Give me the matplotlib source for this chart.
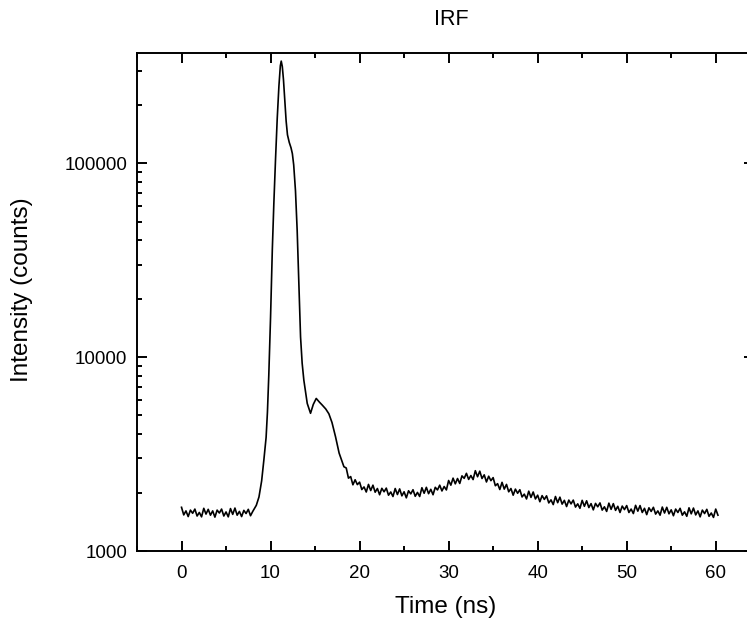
import numpy as np
import matplotlib
matplotlib.use("Agg")
from matplotlib import pyplot as plt
from matplotlib.ticker import LogLocator, MultipleLocator, NullFormatter, FixedLocator

plt.rcParams['font.family'] = ['Liberation Sans', 'DejaVu Sans']

# IRF decay
# baseline before the pulse, 0 .. 7.75 ns
base_counts = [1680, 1535, 1610, 1505, 1625, 1565, 1645, 1515, 1580, 1500,
               1660, 1550, 1640, 1530, 1610, 1495, 1625, 1570, 1645, 1515,
               1590, 1500, 1655, 1545, 1665, 1530, 1600, 1505, 1620, 1560,
               1640, 1520]

# main pulse and after-pulse
peak_time = [8.0, 8.4, 8.7, 9.0, 9.25, 9.5, 9.65, 9.8, 10.0, 10.1,
             10.2, 10.37, 10.56, 10.75, 10.94, 11.1, 11.2, 11.32, 11.45, 11.6,
             11.75, 11.9, 12.1, 12.3, 12.45, 12.6, 12.8, 12.99, 13.18, 13.37,
             13.55, 13.74, 14.12, 14.49, 14.8, 15.13, 15.5, 15.8, 16.2, 16.55,
             16.9, 17.3, 17.7, 18.24]
peak_counts = [1600, 1720, 1900, 2300, 2950, 3850, 5200, 8000, 16000, 24000,
               36000, 62000, 105000, 170000, 250000, 318000, 336000, 315000, 270000, 210000,
               165000, 140000, 128000, 120000, 112000, 98000, 72000, 45000, 24000, 12700,
               9300, 7600, 5770, 5130, 5700, 6120, 5850, 5660, 5400, 5100,
               4600, 3880, 3200, 2720]

# tail, 18.5 .. 60.25 ns
tail_counts = [2680, 2375, 2420, 2195, 2330, 2200, 2265, 2075, 2140, 2015, 2205, 2050,
               2185, 2010, 2100, 1950, 2105, 2020, 2110, 1940, 2015, 1910, 2100, 1955,
               2090, 1925, 2020, 1880, 2045, 1970, 2070, 1915, 2005, 1910, 2120, 1985,
               2130, 1975, 2080, 1950, 2130, 2065, 2185, 2040, 2150, 2065, 2310, 2185,
               2375, 2220, 2365, 2230, 2440, 2370, 2515, 2340, 2450, 2335, 2595, 2415,
               2580, 2365, 2470, 2270, 2430, 2305, 2390, 2170, 2225, 2075, 2260, 2085,
               2205, 2020, 2100, 1940, 2085, 1985, 2070, 1900, 1965, 1855, 2035, 1890,
               2015, 1855, 1940, 1795, 1930, 1845, 1925, 1770, 1835, 1735, 1910, 1775,
               1895, 1745, 1825, 1695, 1830, 1750, 1830, 1685, 1750, 1660, 1825, 1700,
               1815, 1675, 1755, 1630, 1760, 1690, 1770, 1625, 1690, 1600, 1765, 1640,
               1755, 1620, 1700, 1580, 1705, 1635, 1715, 1580, 1645, 1560, 1720, 1605,
               1715, 1580, 1660, 1540, 1670, 1600, 1680, 1550, 1610, 1530, 1685, 1570,
               1680, 1555, 1630, 1520, 1645, 1580, 1660, 1530, 1592, 1510, 1670, 1555,
               1665, 1535, 1610, 1500, 1625, 1560, 1640, 1510, 1570, 1490, 1645, 1530]

x_ticks = [0, 10, 20, 30, 40, 50, 60]
y_ticks = [1000, 10000, 100000]

base_time = np.linspace(0, 7.75, len(base_counts))
tail_time = np.linspace(18.5, 60.25, len(tail_counts))
t = np.concatenate([base_time, peak_time, tail_time])
counts = np.concatenate([base_counts, peak_counts, tail_counts])

fig = plt.figure(figsize=(7.47, 6.18), dpi=100)
ax = fig.add_axes([137/747, 1 - 551/618, 617/747, 498/618])

ax.plot(t, counts, color='black', lw=1.2)

ax.set_yscale('log')
ax.set_xlim(-5, 64.3)
ax.set_ylim(1000, 370000)

ax.xaxis.set_major_locator(FixedLocator(x_ticks))
ax.xaxis.set_minor_locator(MultipleLocator(5))
ax.yaxis.set_major_locator(FixedLocator(y_ticks))
ax.yaxis.set_minor_locator(LogLocator(base=10, subs=np.arange(2, 10)))
ax.yaxis.set_minor_formatter(NullFormatter())
ax.set_yticklabels([str(v) for v in y_ticks])

ax.tick_params(which='both', direction='in', top=True, right=True,
               width=1.4, labelsize=13.5, pad=7, colors='black')
ax.tick_params(axis='x', which='both', pad=10)
ax.tick_params(which='major', length=7)
ax.tick_params(which='minor', length=3.5)
for s in ax.spines.values():
    s.set_linewidth(1.4)

ax.set_xlabel('Time (ns)', fontsize=17.5, labelpad=10)
ax.set_ylabel('Intensity (counts)', fontsize=17.5)
ax.yaxis.set_label_coords(-0.168, 0.524)
ax.set_title('IRF', fontsize=15.5, pad=20, x=0.51)

fig.savefig('out.png', dpi=100)
